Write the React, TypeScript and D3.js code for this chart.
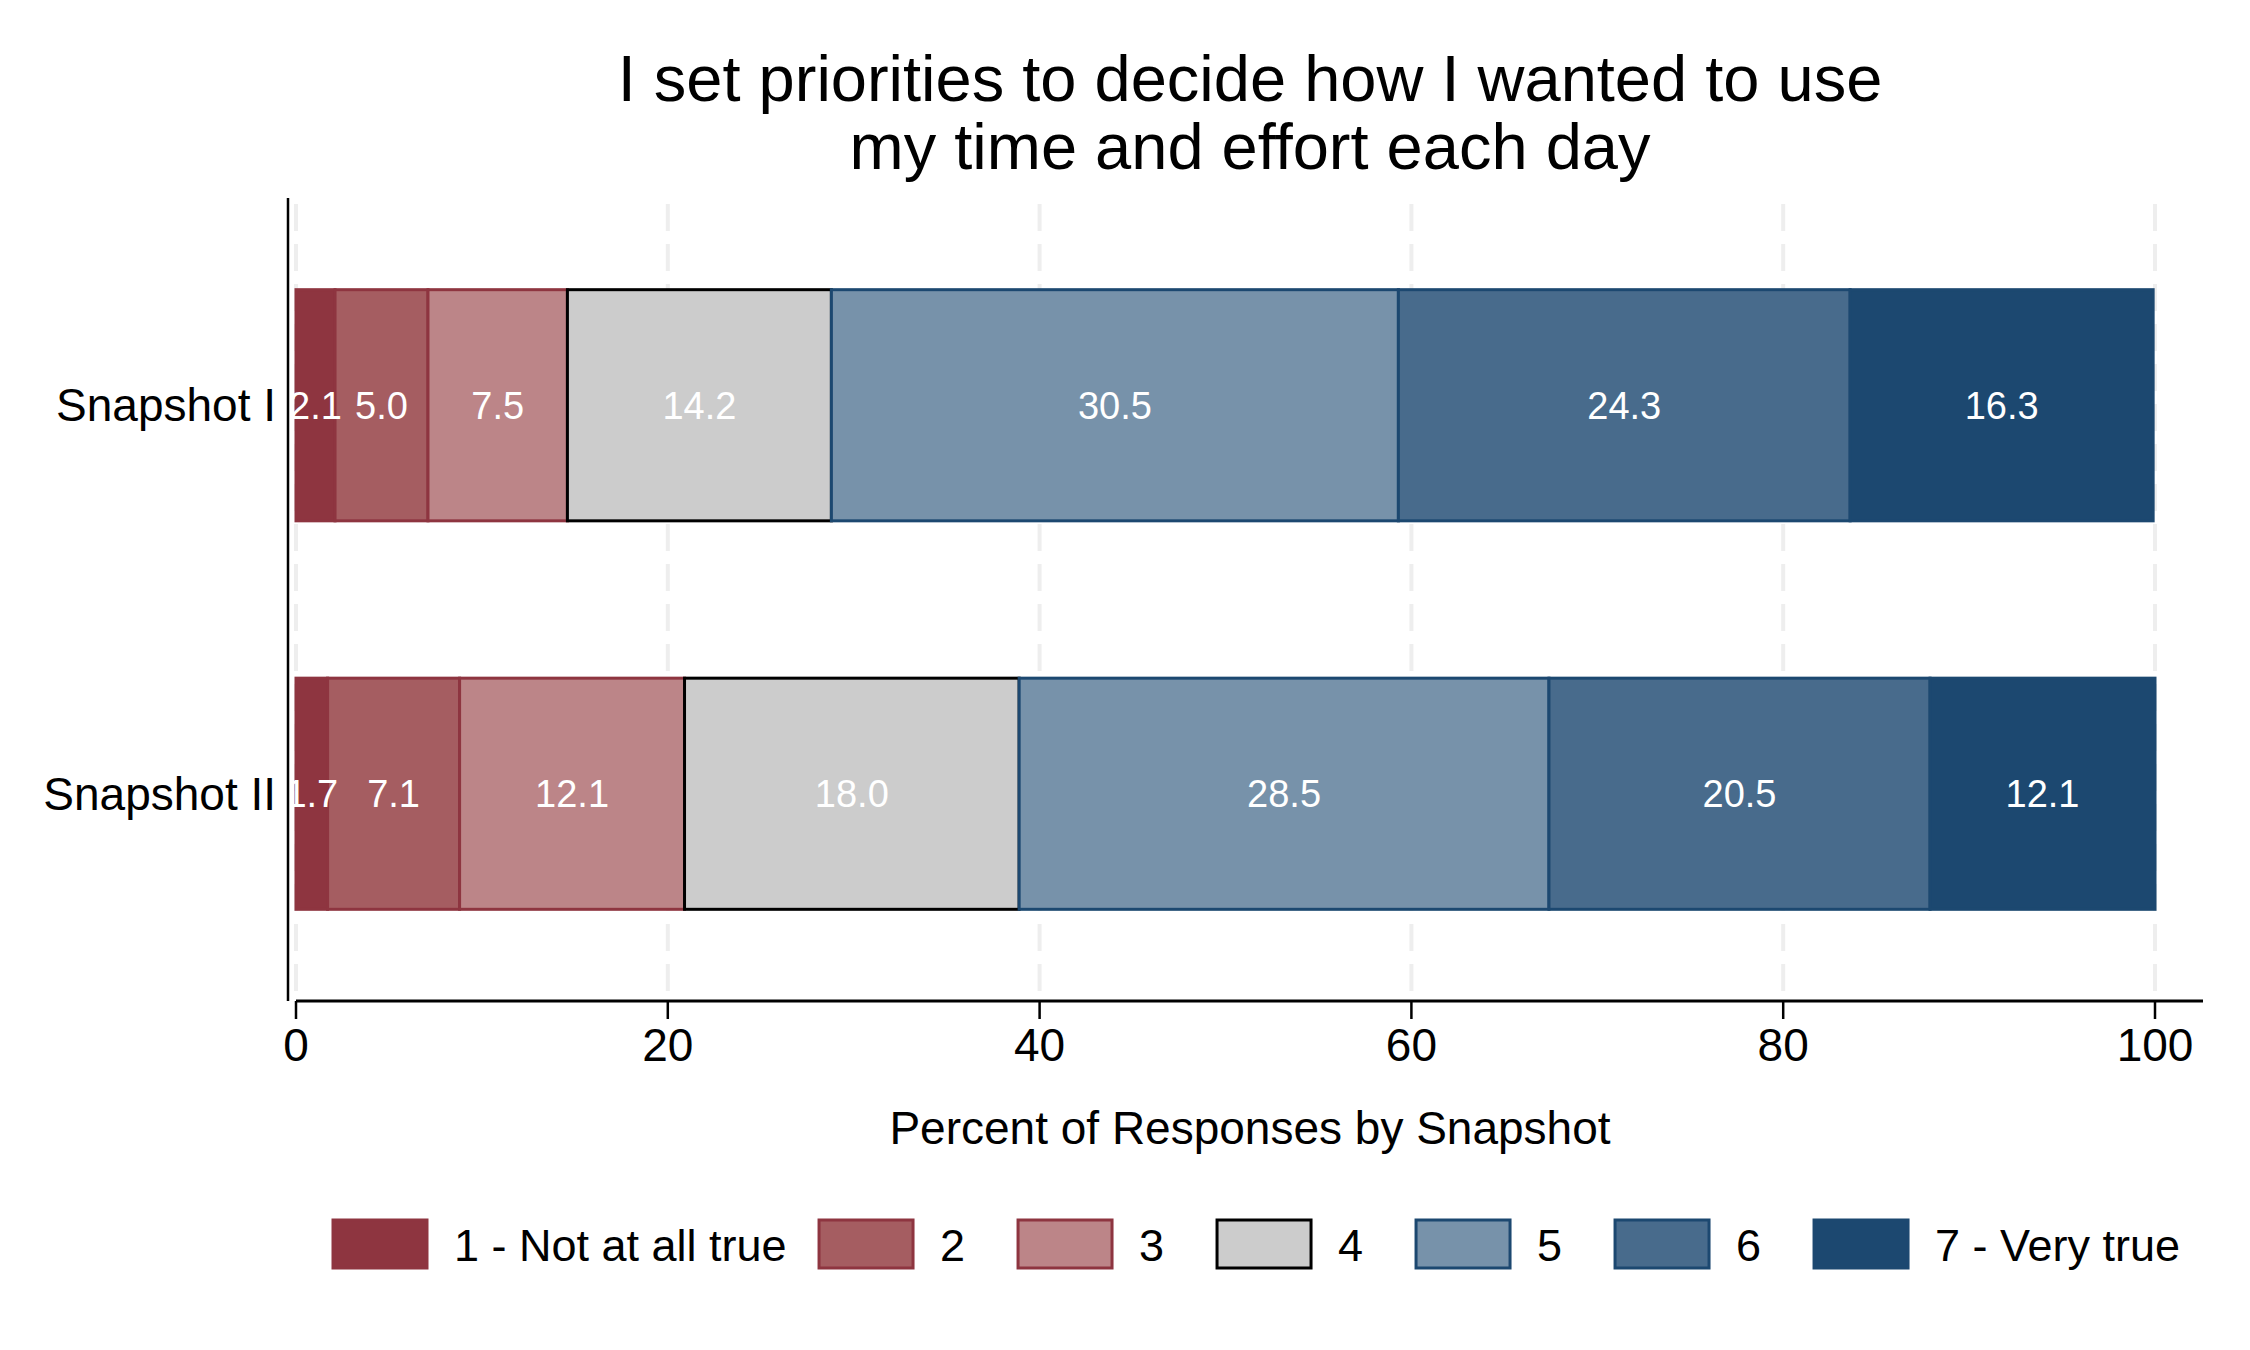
import * as d3 from "d3"

const snapshots = ["Snapshot I", "Snapshot II"]
const responses = ["1 - Not at all true", "2", "3", "4", "5", "6", "7 - Very true"]
const snapshotI = [2.1, 5.0, 7.5, 14.2, 30.5, 24.3, 16.3]
const snapshotII = [1.7, 7.1, 12.1, 18.0, 28.5, 20.5, 12.1]
const xTicks = [0, 20, 40, 60, 80, 100]

const fills = ["#8e3540", "#a55d61", "#bc8588", "#cccccc", "#7792aa", "#486b8c", "#1c4870"]
const strokes = ["#8e3540", "#8e3540", "#8e3540", "#000000", "#1c4870", "#1c4870", "#1c4870"]

const font = "'Liberation Sans', Arial, Helvetica, sans-serif"

function textWidth(txt: string, size: number) {
  const ctx = document.createElement("canvas").getContext("2d")
  if (!ctx) return txt.length * size * 0.5
  ctx.font = `${size}px ${font}`
  return ctx.measureText(txt).width
}

export default function App() {
  const width = 2250
  const height = 1350
  const top = 198
  const bottom = 1001

  const x = d3.scaleLinear().domain([0, 100]).range([296, 2155])
  const y = d3.scaleBand().domain(snapshots).range([top, bottom]).paddingInner(0.405).paddingOuter(0.236)

  const rows = [snapshotI, snapshotII].map((vals, i) => {
    const ends = d3.cumsum(vals)
    return vals.map((v, j) => ({
      snap: snapshots[i],
      k: j,
      v,
      x0: j === 0 ? 0 : ends[j - 1],
      x1: ends[j],
    }))
  })

  // legend layout, Stata-like columns of min width 200
  const boxW = 94
  const boxH = 48
  let lx = 333
  const legend = responses.map((r, i) => {
    const item = { r, i, x: lx }
    lx += Math.max(199, boxW + 27 + textWidth(r, 46) + 25)
    return item
  })

  return (
    <svg width={width} height={height} style={{ position: "absolute", left: 0, top: 0, background: "#fff" }} fontFamily={font}>
      <rect width={width} height={height} fill="#fff" />

      {/* title */}
      <text x={1250} y={101} textAnchor="middle" fontSize={65} fill="#000">
        I set priorities to decide how I wanted to use
      </text>
      <text x={1250} y={169} textAnchor="middle" fontSize={65} fill="#000">
        my time and effort each day
      </text>

      {/* grid */}
      {xTicks.map((t) => (
        <line key={t} x1={x(t)} x2={x(t)} y1={top} y2={bottom} stroke="#eeeeee" strokeWidth={4} strokeDasharray="27 13" strokeDashoffset={-6} />
      ))}

      {/* bars */}
      {rows.map((segs) =>
        segs.map((s) => (
          <rect
            key={s.snap + s.k}
            x={x(s.x0)}
            y={y(s.snap)}
            width={x(s.x1) - x(s.x0)}
            height={y.bandwidth()}
            fill={fills[s.k]}
            stroke={strokes[s.k]}
            strokeWidth={3}
          />
        ))
      )}
      {rows.map((segs) =>
        segs.map((s) => (
          <text
            key={"t" + s.snap + s.k}
            x={(x(s.x0) + x(s.x1)) / 2}
            y={(y(s.snap) ?? 0) + y.bandwidth() / 2}
            dy="0.35em"
            textAnchor="middle"
            fontSize={38}
            fill="#fff"
          >
            {s.v.toFixed(1)}
          </text>
        ))
      )}

      {/* y axis */}
      <line x1={288} x2={288} y1={top} y2={bottom} stroke="#000" strokeWidth={2.5} />
      {snapshots.map((s) => (
        <text key={s} x={276} y={(y(s) ?? 0) + y.bandwidth() / 2} dy="0.35em" textAnchor="end" fontSize={46} fill="#000">
          {s}
        </text>
      ))}

      {/* x axis */}
      <line x1={x(0)} x2={2203} y1={bottom} y2={bottom} stroke="#000" strokeWidth={3} />
      {xTicks.map((t) => (
        <g key={t}>
          <line x1={x(t)} x2={x(t)} y1={bottom} y2={bottom + 18} stroke="#000" strokeWidth={2.5} />
          <text x={x(t)} y={1061} textAnchor="middle" fontSize={46} fill="#000">
            {t}
          </text>
        </g>
      ))}
      <text x={1250} y={1144} textAnchor="middle" fontSize={46} fill="#000">
        Percent of Responses by Snapshot
      </text>

      {/* legend */}
      {legend.map((l) => (
        <g key={l.r}>
          <rect x={l.x} y={1220} width={boxW} height={boxH} fill={fills[l.i]} stroke={strokes[l.i]} strokeWidth={3} />
          <text x={l.x + boxW + 27} y={1261} fontSize={45} fill="#000">
            {l.r}
          </text>
        </g>
      ))}
    </svg>
  )
}
